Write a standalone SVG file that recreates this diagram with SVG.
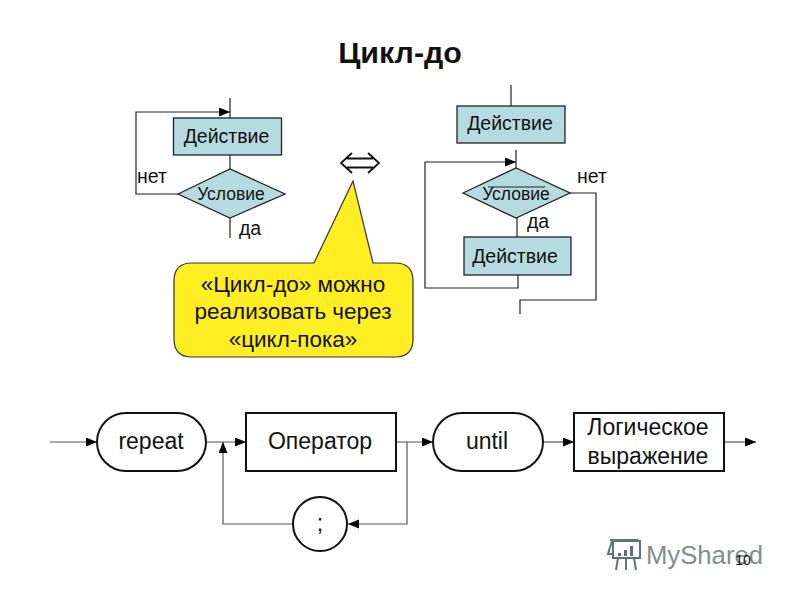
<svg xmlns="http://www.w3.org/2000/svg" width="800" height="600" viewBox="0 0 800 600">
<defs>
<marker id="a" markerUnits="userSpaceOnUse" markerWidth="12" markerHeight="10" refX="11" refY="4.500" orient="auto"><path d="M0 0L11 4.500L0 9Z" fill="#000"/></marker>
</defs>
<style>
text{font-family:"Liberation Sans",Arial,sans-serif;fill:#111;text-anchor:middle}
.f{fill:#b5dbe0;stroke:#222;stroke-width:1.3}
.t{font-size:19.500px}
.s{font-size:17.500px}
.b{fill:#fff;stroke:#111;stroke-width:2}
.l{font-size:23px}
.k{font-size:22.500px}
.c{fill:none;stroke:#222;stroke-width:1.2}
.g{fill:none;stroke:#555;stroke-width:1.2}
</style>
<rect width="800" height="600" fill="#fff"/>
<text x="400" y="63" font-size="30.400" font-weight="bold">Цикл-до</text>
<g id="connectors">
<path class="c" d="M230 98V118M230 155V170M230 218V238"/>
<path class="c" d="M178 194H136V112H230" marker-end="url(#a)"/>
<path class="c" d="M511 85V106M516 150V168M517 218V237"/>
<path class="c" d="M518 275V288H425V162H516" marker-end="url(#a)"/>
<path class="c" d="M570 193H596V300H520V314"/>
<path class="g" d="M50 442H97" marker-end="url(#a)"/>
<path class="g" d="M207 442H246" marker-end="url(#a)"/>
<path class="g" d="M397 442H433" marker-end="url(#a)"/>
<path class="g" d="M543 442H574" marker-end="url(#a)"/>
<path class="g" d="M724 442H756" marker-end="url(#a)"/>
<path class="g" d="M407 442V524H348" marker-end="url(#a)"/>
<path class="g" d="M292 524H223V442" marker-end="url(#a)"/>
</g>
<g id="action1"><rect class="f" x="173.500" y="118" width="108" height="37"/><text class="t" x="226.500" y="143">Действие</text></g>
<g id="cond1"><path class="f" d="M178 194L230 169L285 194L230 218Z"/><text class="s" x="231" y="200">Условие</text></g>
<text class="t" x="152" y="183">нет</text>
<text class="t" x="250" y="235">да</text>
<g id="action2"><rect class="f" x="457" y="106" width="108" height="37"/><text class="t" x="510" y="130">Действие</text></g>
<g id="cond2"><path class="f" d="M463 193L516 168L570 193L516 218Z"/><text class="s" x="516" y="200">Условие</text><path class="c" d="M488 187H545"/></g>
<text class="t" x="592" y="183">нет</text>
<text class="t" x="538" y="228">да</text>
<g id="action3"><rect class="f" x="464" y="237" width="107" height="38"/><text class="t" x="515" y="263">Действие</text></g>
<g id="equiv"><path d="M352 153L341 163L352 173M368 153L379 163L368 173M347 158.500H373M347 167.500H373" fill="none" stroke="#111" stroke-width="1.800"/></g>
<g id="callout"><path d="M192 263H314L353 181L373 263H395Q413 263 413 281V339Q413 357 395 357H192Q174 357 174 339V281Q174 263 192 263Z" fill="#ffee22" stroke="#333" stroke-width="1.200"/>
<text class="k" x="293" y="292">«Цикл-до» можно</text><text class="k" x="293" y="319">реализовать через</text><text class="k" x="293" y="347">«цикл-пока»</text></g>
<g id="repeat"><rect class="b" x="97" y="413" width="109" height="58" rx="29"/><text class="l" x="151" y="449">repeat</text></g>
<g id="operator"><rect class="b" x="246" y="413" width="150" height="58"/><text class="l" x="320" y="449">Оператор</text></g>
<g id="until"><rect class="b" x="433" y="413" width="110" height="58" rx="29"/><text class="l" x="487" y="449">until</text></g>
<g id="logic"><rect class="b" x="574" y="413" width="150" height="58"/><text class="l" x="648" y="435">Логическое</text><text class="l" x="648" y="464">выражение</text></g>
<g id="semi"><circle class="b" cx="320" cy="524" r="27"/><text class="l" x="320" y="531">;</text></g>
<g id="watermark"><g fill="none" stroke="#5b7477" stroke-width="2"><path d="M613 541H640V558H613ZM612 541L608 554H613M610 540H638M618 558L616 570M626 558V570M634 558L636 570"/></g><path d="M618 553h3v3h-3zM624 550h3v6h-3zM630 546h3v10h-3z" fill="#5b7477"/><text x="704.500" y="564" font-size="25.700" style="fill:#7f8f90">MyShared</text></g>
<text x="743" y="565" font-size="14">10</text>
</svg>
